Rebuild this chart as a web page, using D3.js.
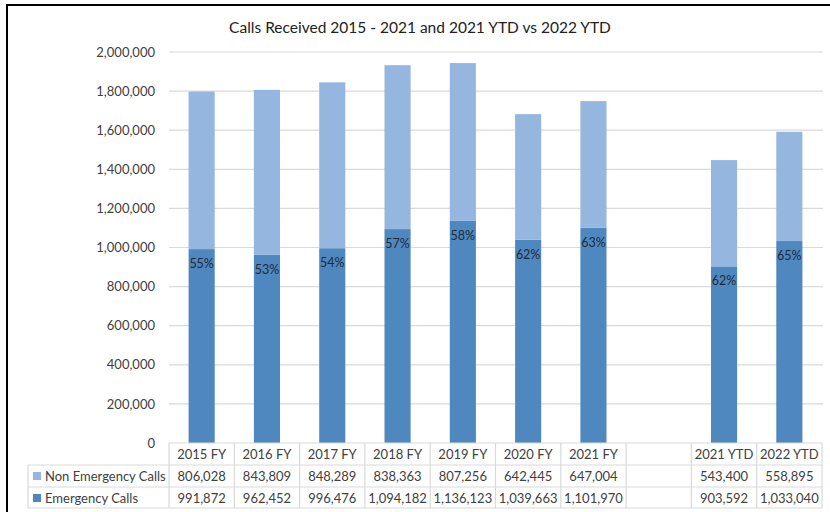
<!DOCTYPE html>
<html><head><meta charset="utf-8">
<script src="https://cdn.jsdelivr.net/npm/d3@7"></script>
<style>body{margin:0;background:#fff}svg{display:block}</style>
</head><body>
<svg id="c" width="830" height="512"></svg>
<script>
const categories = ["2015 FY","2016 FY","2017 FY","2018 FY","2019 FY","2020 FY","2021 FY","","2021 YTD","2022 YTD"];
const nonEmergency = [806028,843809,848289,838363,807256,642445,647004,null,543400,558895];
const emergency = [991872,962452,996476,1094182,1136123,1039663,1101970,null,903592,1033040];
const seriesNames = ["Non Emergency Calls","Emergency Calls"];
const yTicks = [0,200000,400000,600000,800000,1000000,1200000,1400000,1600000,1800000,2000000];
const title = "Calls Received 2015 - 2021 and 2021 YTD vs 2022 YTD";

const colLight = "#95b7df", colDark = "#4f88bf", grid = "#d9d9d9", txt = "#404040";
const font = "Lato, 'Open Sans', sans-serif";
const svg = d3.select("#c");

// outer frame
svg.append("path").attr("d","M7,512 V5 H830").attr("fill","none").attr("stroke","#000").attr("stroke-width",2);

const x = d3.scaleBand().domain(categories).range([169,822]).paddingInner(0.6).paddingOuter(0.3);
const y = d3.scaleLinear().domain([0,2000000]).range([443,52]);

svg.append("text").attr("x",420).attr("y",33).attr("text-anchor","middle")
  .attr("font-family",font).attr("font-size",15.5).attr("fill","#222").text(title);

// gridlines + y labels
const yAxis = d3.axisLeft(y).tickValues(yTicks).tickFormat(d3.format(",")).tickSize(0).tickPadding(14);
const ga = svg.append("g").attr("transform","translate(169,0)").call(yAxis);
ga.select(".domain").remove();
ga.selectAll("text").attr("font-family",font).attr("font-size",13).attr("fill",txt);
svg.append("g").selectAll("line").data(yTicks.filter(d=>d>0)).join("line")
  .attr("x1",169).attr("x2",823).attr("y1",d=>y(d)).attr("y2",d=>y(d))
  .attr("stroke",grid).attr("stroke-width",1.2);

const data = categories.map((c,i)=>({c, e:emergency[i], n:nonEmergency[i]})).filter(d=>d.e!=null);

// bars
svg.append("g").selectAll("rect").data(data).join("rect")
  .attr("x",d=>x(d.c)).attr("width",x.bandwidth())
  .attr("y",d=>y(d.e)).attr("height",d=>y(0)-y(d.e)).attr("fill",colDark);
svg.append("g").selectAll("rect").data(data).join("rect")
  .attr("x",d=>x(d.c)).attr("width",x.bandwidth())
  .attr("y",d=>y(d.e+d.n)).attr("height",d=>y(d.e)-y(d.e+d.n)).attr("fill",colLight);

// percent labels
svg.append("g").selectAll("text").data(data).join("text")
  .attr("x",d=>x(d.c)+x.bandwidth()/2).attr("y",d=>y(d.e)+19)
  .attr("text-anchor","middle").attr("font-family",font).attr("font-size",12.5).attr("fill","#1f2a3a")
  .text(d=>Math.round(d.e/(d.e+d.n)*100)+"%");

// data table
const step = x.step();
const x0 = 169, x1 = 822, lx = 28;
const rows = [443,465,487,508];
const tb = svg.append("g").attr("stroke",grid).attr("stroke-width",1.2).attr("fill","none");
tb.append("line").attr("x1",x0).attr("x2",x1).attr("y1",rows[0]).attr("y2",rows[0]);
[1,2,3].forEach(r=>tb.append("line").attr("x1",lx).attr("x2",x1).attr("y1",rows[r]).attr("y2",rows[r]));
d3.range(categories.length+1).forEach(i=>{
  const xx = x0 + i*step;
  tb.append("line").attr("x1",xx).attr("x2",xx).attr("y1",rows[0]).attr("y2",rows[3]);
});
tb.append("line").attr("x1",lx).attr("x2",lx).attr("y1",rows[1]).attr("y2",rows[3]);

const fmt = d3.format(",");
const tt = svg.append("g").attr("font-family",font).attr("font-size",13).attr("fill",txt).attr("text-anchor","middle");
categories.forEach((c,i)=>{
  const cx = x(c)+x.bandwidth()/2;
  tt.append("text").attr("x",cx).attr("y",459).text(c);
  if(nonEmergency[i]!=null) tt.append("text").attr("x",cx).attr("y",481).text(fmt(nonEmergency[i]));
  if(emergency[i]!=null) tt.append("text").attr("x",cx).attr("y",503).text(fmt(emergency[i]));
});
// legend column
[[colLight,seriesNames[0],476],[colDark,seriesNames[1],498]].forEach(([col,name,cy])=>{
  svg.append("rect").attr("x",33).attr("y",cy-4).attr("width",8).attr("height",8).attr("fill",col);
  svg.append("text").attr("x",45).attr("y",cy+5).attr("font-family",font).attr("font-size",13).attr("fill",txt).text(name);
});
</script>
</body></html>
